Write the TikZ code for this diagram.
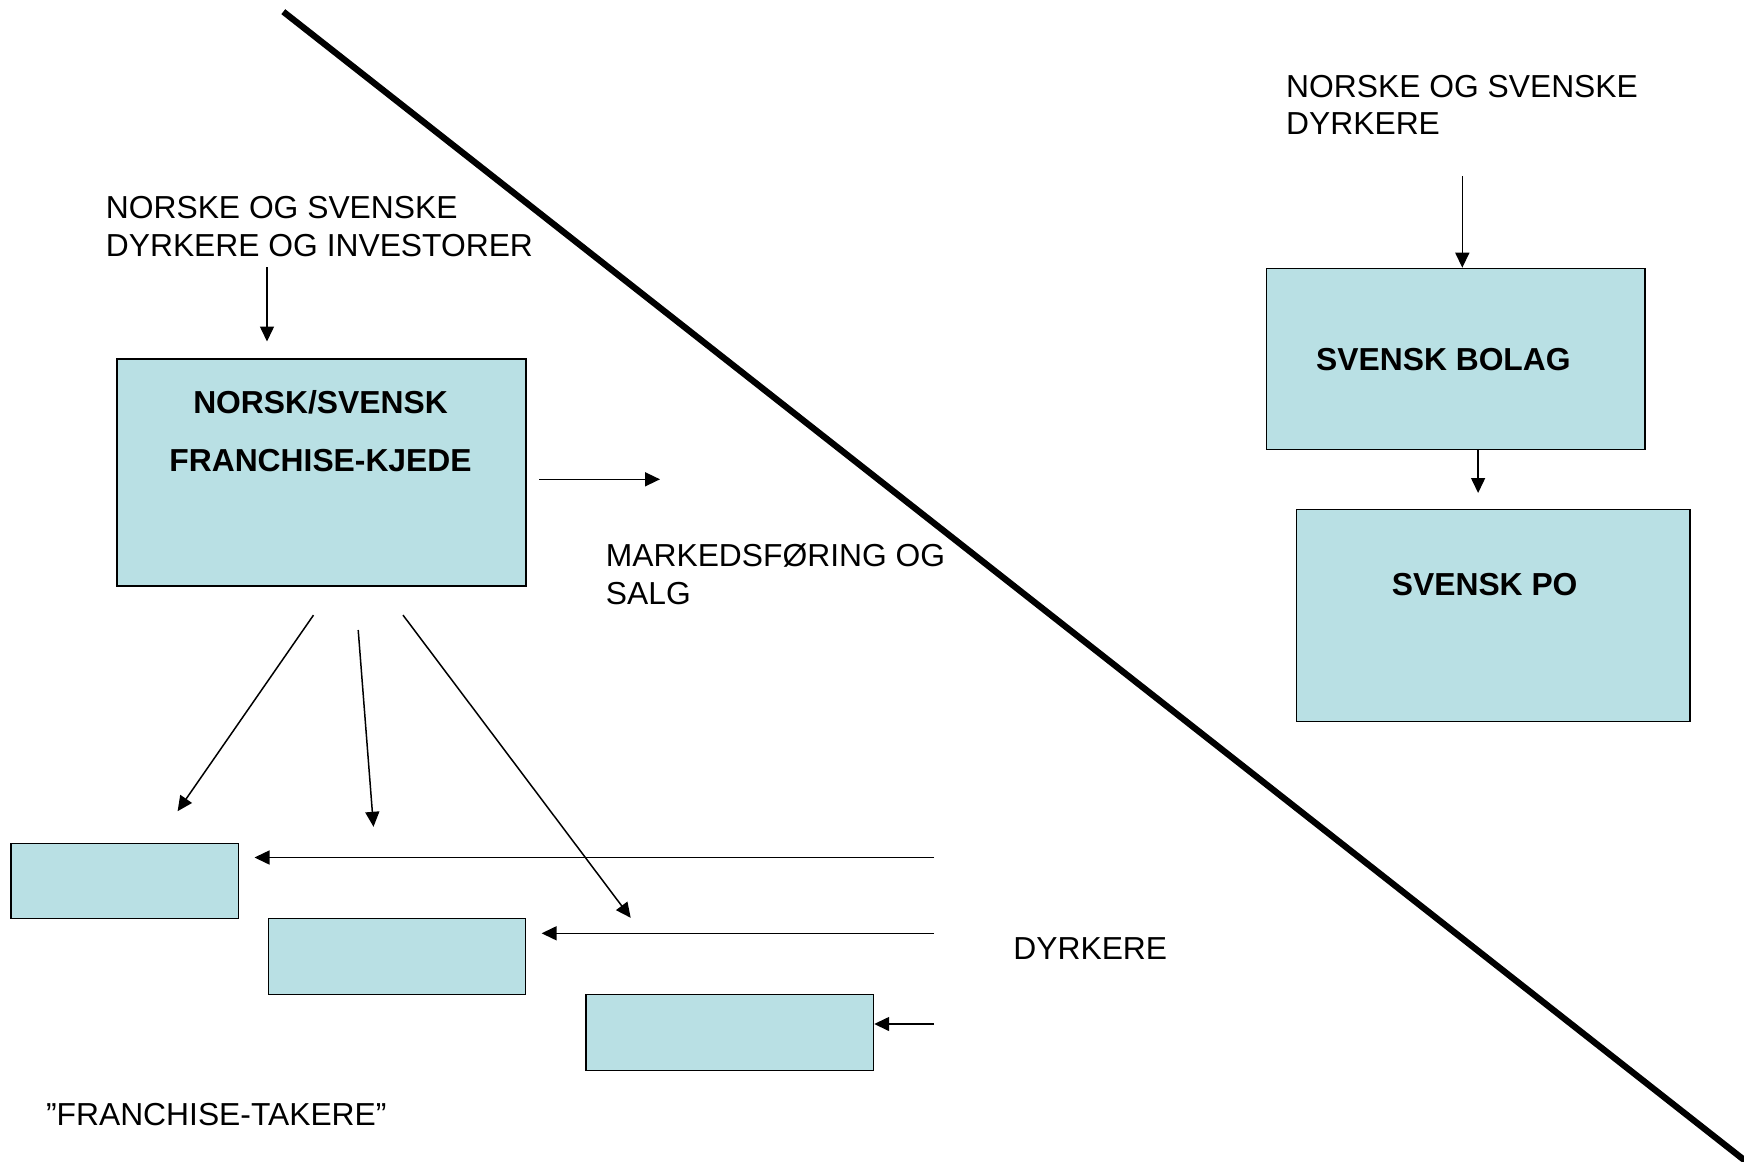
\documentclass[tikz,border=0pt]{standalone}
\usepackage{fontspec}
\setmainfont{Liberation Sans}
\usetikzlibrary{arrows.meta}
\definecolor{boxblue}{RGB}{185,224,228}

\begin{document}
\begin{tikzpicture}[x=1pt,y=-1pt,
        box/.style={draw,fill=boxblue,line width=1.6pt,inner sep=0pt,anchor=north west},
        txt/.style={anchor=base west,inner sep=0pt,align=left,font=\fontsize{31.8}{37.7}\selectfont},
        boxtxt/.style={inner sep=0pt,font=\fontsize{31.8}{58.4}\selectfont\bfseries},
        arr/.style={-{Triangle[length=15pt,width=14pt]},line width=1.5pt}]
        \useasboundingbox (0,0) rectangle (1744,1161);
        \draw[line width=6.3pt] (283.3,11.7) -- (1750,1164.6);
        \node[box,minimum width=409,minimum height=227] (kjede) at (116,358) {};
        \node[box,minimum width=227.2,minimum height=75.1] (ft1) at (10.4,842.7) {};
        \node[box,minimum width=257.2,minimum height=75.8] (ft2) at (267.6,917.8) {};
        \node[box,minimum width=287.2,minimum height=75.9] (ft3) at (585.4,993.6) {};
        \node[box,minimum width=378.6,minimum height=180.8] (bolag) at (1265.7,267.7) {};
        \node[box,minimum width=393.6,minimum height=212.1] (po) at (1295.7,508.7) {};
        \node[boxtxt,anchor=base,align=center] (kjedetxt) at (320.5,471.7) {NORSK/SVENSK\\FRANCHISE-KJEDE};
        \node[boxtxt,anchor=base west] (bolagtxt) at (1316,370.4) {SVENSK BOLAG};
        \node[boxtxt,anchor=base] (potxt) at (1484.7,595.8) {SVENSK PO};
        \node[txt] (investorer) at (105.7,256) {NORSKE OG SVENSKE\\DYRKERE OG INVESTORER};
        \node[txt] (svdyrkere) at (1286,135) {NORSKE OG SVENSKE\\DYRKERE};
        \node[txt] (markeds) at (605.7,604) {MARKEDSFØRING OG\\SALG};
        \node[txt] (dyrkere) at (1013.2,959) {DYRKERE};
        \node[txt] (takere) at (45.9,1125.7) {”FRANCHISE-TAKERE”};
        \coordinate (i0) at (267,267);
        \coordinate (s0) at (1462.3,176.2);
        \coordinate (m0) at (539,479.3);
        \coordinate (m1) at (660,479.3);
        \coordinate (k1) at (313.5,615.1);
        \coordinate (k2) at (358.2,630);
        \coordinate (k3) at (403,615.1);
        \coordinate (t1) at (177.6,811.2);
        \coordinate (t2) at (373.5,826.8);
        \coordinate (t3) at (630.7,917.8);
        \coordinate (h1) at (934,857.5);
        \coordinate (h2) at (934,933.3);
        \coordinate (h3) at (934,1024);
        \draw[arr,shorten >=16.5] (i0) -- (i0 |- kjede.north);
        \draw[arr] (s0) -- (s0 |- bolag.north);
        \draw[arr,shorten >=15.7] ([xshift=22.3]bolag.south) -- ([xshift=22.3]bolag.south |- po.north);
        \draw[arr] (m0) -- (m1);
        \draw[arr] (k1) -- (t1);
        \draw[arr] (k2) -- (t2);
        \draw[arr] (k3) -- (t3);
        \draw[arr,shorten >=15.3] (h1) -- (h1 -| ft1.east);
        \draw[arr,shorten >=15.2] (h2) -- (h2 -| ft2.east);
        \draw[arr] (h3) -- (h3 -| ft3.east);
    \end{tikzpicture}
\end{document}
